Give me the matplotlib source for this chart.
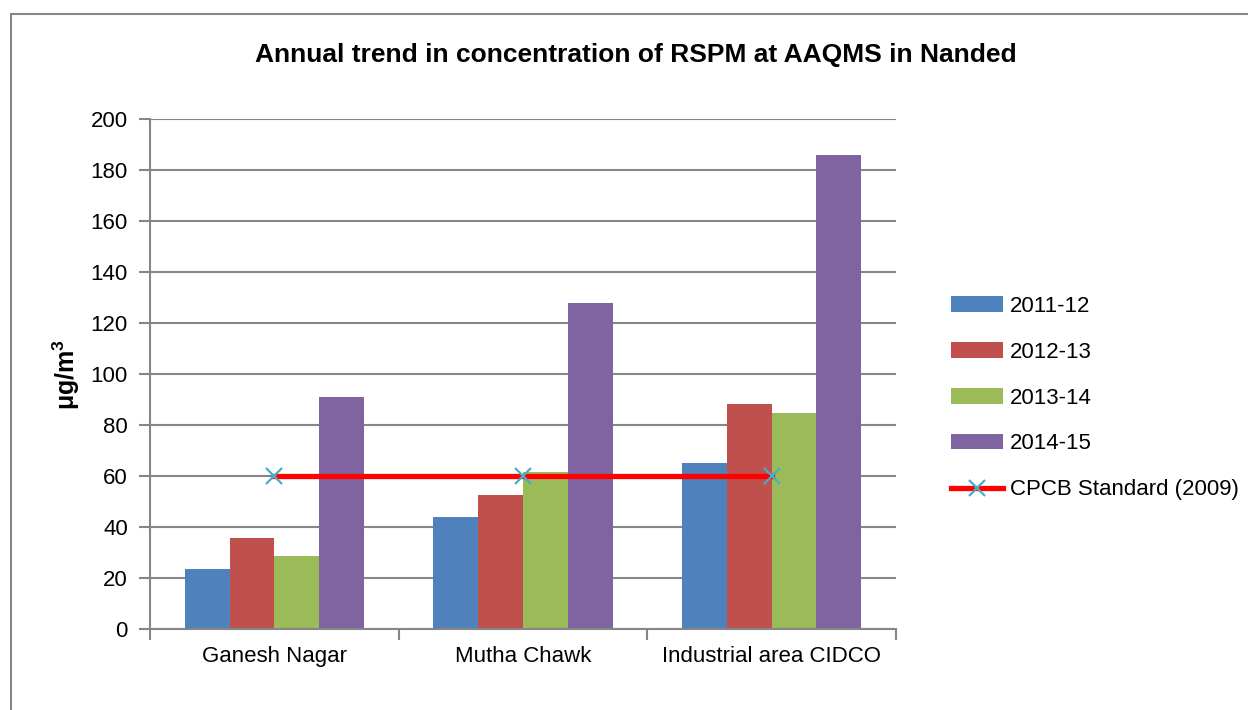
import numpy as np
import matplotlib.pyplot as plt
from matplotlib.patches import Rectangle

plt.rcParams['font.family'] = ['Liberation Sans', 'DejaVu Sans']
plt.rcParams['mathtext.default'] = 'regular'

sites = ["Ganesh Nagar", "Mutha Chawk", "Industrial area CIDCO"]
years = ["2011-12", "2012-13", "2013-14", "2014-15"]
rspm = {
    "2011-12": [23.4, 43.8, 65.0],
    "2012-13": [35.8, 52.5, 88.1],
    "2013-14": [28.8, 61.4, 84.8],
    "2014-15": [90.9, 127.8, 185.8],
}
standard = [60, 60, 60]
colors = ["#4F81BD", "#C0504D", "#9BBB59", "#8064A2"]

fig = plt.figure(figsize=(12.48, 7.1), dpi=100)
ax = fig.add_axes([150/1248, 1-629/710, (896-150)/1248, (629-119)/710])

x = np.arange(len(sites))
w = 0.18
for i, yr in enumerate(years):
    ax.bar(x + (i - 1.5)*w, rspm[yr], w, color=colors[i], label=yr, zorder=2)

ax.plot(x, standard, color="#FF0000", lw=3.8, marker="x", markersize=11,
        markeredgecolor="#4BACC6", markeredgewidth=1.6, zorder=3,
        label="CPCB Standard (2009)")

ax.set_xlim(-0.5, 2.5)
ax.set_ylim(0, 200)
ax.set_yticks(range(0, 201, 20))
ax.yaxis.grid(True, color="#868686", lw=1.5, zorder=0)
ax.set_xticks([-0.5, 0.5, 1.5, 2.5])
ax.set_xticklabels([])
ax.set_xticks(x, minor=True)
ax.set_xticklabels(sites, minor=True, fontsize=16)
ax.tick_params(axis="x", which="minor", length=0, pad=12)
ax.tick_params(axis="x", which="major", length=8, width=1.5, color="#868686", direction="out")
ax.tick_params(axis="y", length=8, width=1.5, color="#868686", labelsize=16, pad=8)
for s in ["top", "right"]:
    ax.spines[s].set_visible(False)
for s in ["left", "bottom"]:
    ax.spines[s].set_color("#868686")
    ax.spines[s].set_linewidth(1.5)

ax.set_ylabel("μg/m$^{3}$", fontsize=18, fontweight="bold", labelpad=6)
fig.text(636/1248, 1-55/710, "Annual trend in concentration of RSPM at AAQMS in Nanded",
         ha="center", va="center", fontsize=19, fontweight="bold")

handles, labels = ax.get_legend_handles_labels()
order = [1, 2, 3, 4, 0]
fig.legend([handles[k] for k in order], [labels[k] for k in order],
           loc="center left", bbox_to_anchor=(931/1248, 1-398/710), frameon=False,
           fontsize=16, labelspacing=1.12, handlelength=2.35, handletextpad=0.3)

fig.patches.append(Rectangle((11/1248, -0.1), 1.1, 1.1 - 14/710,
                             transform=fig.transFigure, fill=False,
                             edgecolor="#868686", lw=1.5, figure=fig))

fig.savefig("out.png", dpi=100)
